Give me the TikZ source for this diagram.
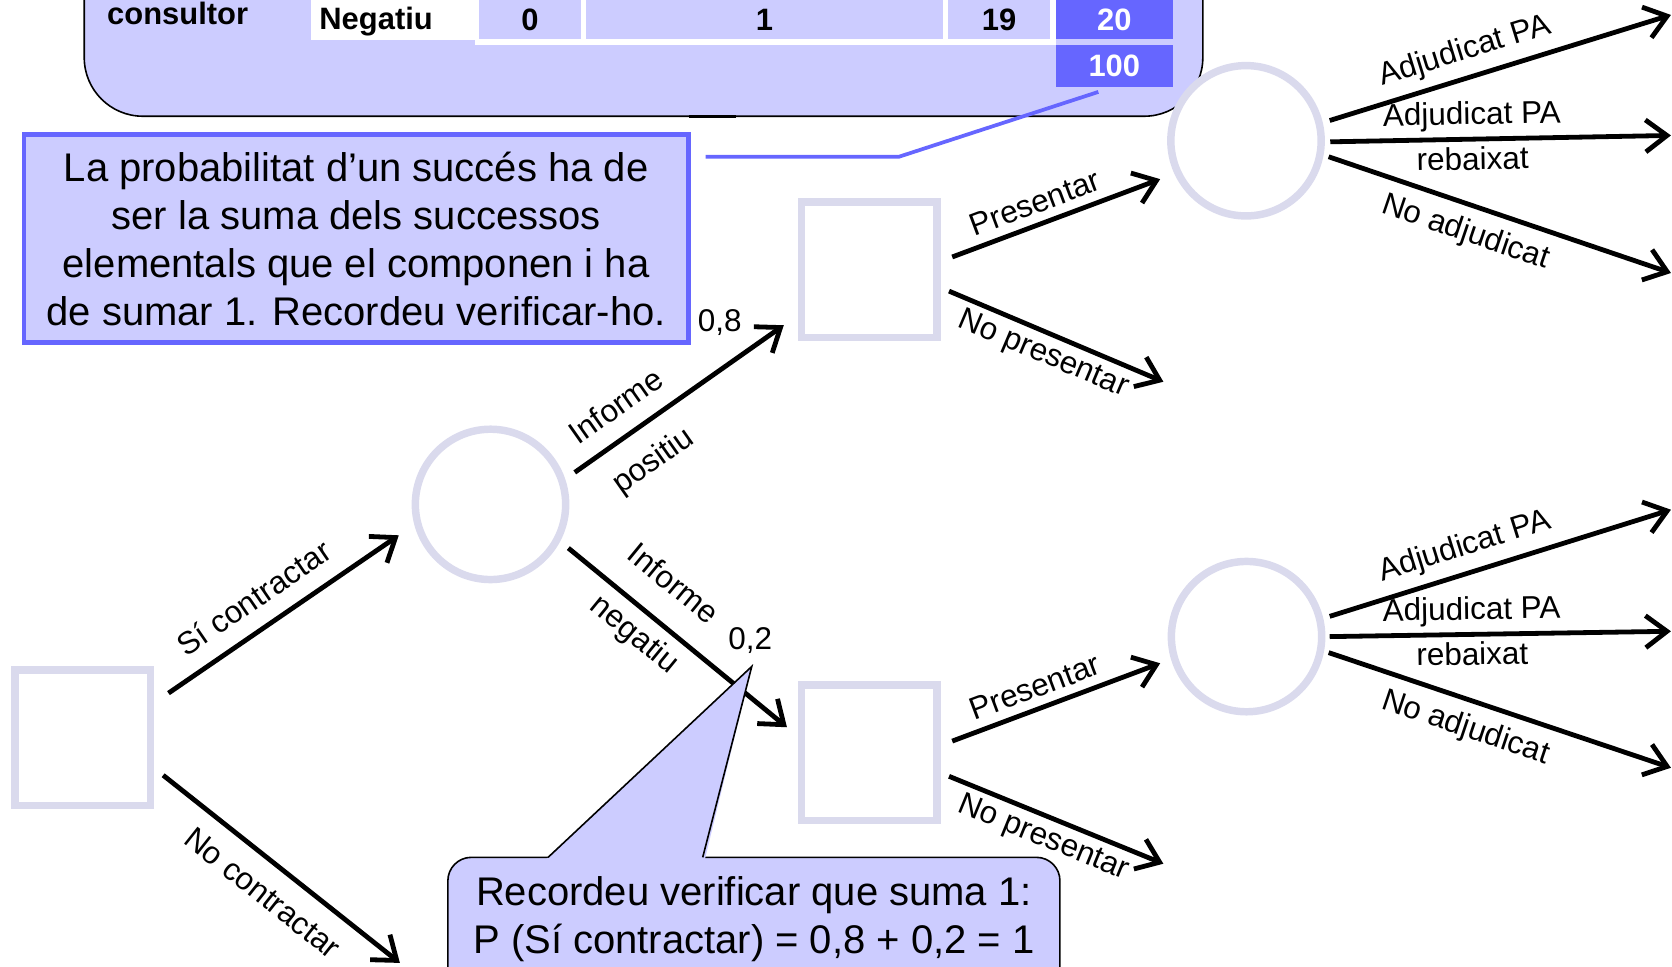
\documentclass[tikz,border=0pt]{standalone}
\usepackage{fontspec}
\setmainfont{Liberation Sans}
\usetikzlibrary{arrows.meta,calc}
\definecolor{lav}{RGB}{204,204,255}
\definecolor{blu}{RGB}{102,102,255}
\definecolor{ring}{RGB}{218,218,237}
\begin{document}
\begin{tikzpicture}[x=1pt,y=-1pt,
  arr/.style={line width=4.5pt,-{Straight Barb[length=20pt,width=30pt]}},
  lbl/.style={font=\fontsize{29.5}{34}\selectfont,sloped,inner sep=0pt,text height=21pt,text depth=6pt},
  decbox/.style={draw=ring,line width=7pt,fill=white,minimum width=127pt,minimum height=127pt,inner sep=0pt},
  chance/.style={circle,draw=ring,line width=7pt,fill=white,minimum size=141pt,inner sep=0pt},
  big/.style={font=\fontsize{37.5}{45}\selectfont,align=center},
  tab/.style={font=\fontsize{29}{33}\selectfont\bfseries},
  cell/.style={tab,inner sep=0pt,minimum height=37pt},
  num/.style={font=\fontsize{29.5}{34}\selectfont,inner sep=1pt}]
\useasboundingbox (0,0) rectangle (1568,906);
\clip (0,0) rectangle (1568,906);

% table panel
\draw[fill=lav,line width=1.5pt,rounded corners=55pt] (79,-120) rectangle (1128,109);
\draw[line width=3pt] (646,109.5) -- (690,109.5);
\fill[white] (445,-10) rectangle (990,42);
\node[cell,fill=white,minimum width=154pt,anchor=north west] (negc) at (291,0) {};
\node[tab,anchor=base west] (neg) at (296,28) {Negatiu};
\node[tab,anchor=base west] (cons) at (97,23) {consultor};
\node[cell,fill=lav,minimum width=96pt] (c0) at (497,18.5) {0};
\node[cell,fill=lav,minimum width=334pt] (c1v) at (717,18.5) {1};
\node[cell,fill=lav,minimum width=96pt] (c19) at (937,18.5) {19};
\node[cell,fill=blu,text=white,minimum width=110pt] (c20) at (1045,18.5) {20};
\node[cell,fill=blu,text=white,minimum width=110pt,minimum height=40pt] (c100) at (1045,62) {100};

% callout 1
\node[big,draw=blu,line width=4.5pt,fill=lav,minimum width=623pt,minimum height=195pt,inner sep=0pt] (note1) at (334,224)
  {La probabilitat d’un succés ha de\\ser la suma dels successos\\elementals que el componen i ha\\de sumar 1. Recordeu verificar-ho.};
\coordinate (bend) at (843,147);
\draw[blu,line width=3.5pt] ($(c100.south)+(-15,4)$) -- (bend) -- ($(note1.east)+(14,-77)$);

% tree nodes
\node[decbox] (d1) at (77.5,692) {};
\node[chance] (k1) at (460,473) {};
\node[decbox] (d2) at (815,253) {};
\node[decbox] (d3) at (815,706) {};
\node[chance] (k2) at (1168.5,132) {};
\node[chance] (k3) at (1169,597) {};

\coordinate (nc) at (375,903);
\coordinate (np1) at (1091,358);
\coordinate (np2) at (1091,810);
\coordinate (t1) at (1567,14);
\coordinate (t2) at (1567,127);
\coordinate (t3) at (1567,256);
\coordinate (t4) at (1567,478);
\coordinate (t5) at (1567,592);
\coordinate (t6) at (1567,720);

% branches
\draw[arr] ($(d1.east)+(13.5,-42)$) -- node[lbl,above=9.6pt,pos=.445]{Sí contractar} ($(k1.west)+(-12,29)$);
\draw[arr] ($(d1.east)+(8.5,35)$) -- node[lbl,below=15.3pt,pos=.5]{No contractar} (nc);

\draw[arr] ($(k1.east)+(5,-30)$) -- node[lbl,above=10pt,pos=.28]{Informe} node[lbl,below=18.7pt,pos=.277]{positiu} ($(d2.west)+(-13,52)$);
\draw[arr] ($(k1.east)+(-1,41)$) -- node[lbl,above=18.5pt,pos=.367]{Informe} node[lbl,below=8.6pt,pos=.375]{negatiu} ($(d3.west)+(-10,-24)$);

\draw[arr] ($(d2.east)+(11,-12)$) -- node[lbl,above=2pt,pos=.434]{Presentar} ($(k2.west)+(-6.5,36)$);
\draw[arr] ($(d2.east)+(8,20)$) -- node[lbl,below=4.4pt,pos=.478]{No presentar} (np1);
\draw[arr] ($(d3.east)+(11,-11)$) -- node[lbl,above=2pt,pos=.434]{Presentar} ($(k3.west)+(-7,25)$);
\draw[arr] ($(d3.east)+(8,22)$) -- node[lbl,below=4.4pt,pos=.478]{No presentar} (np2);

\draw[arr] ($(k2.east)+(4.5,-19)$) -- node[lbl,above=8.5pt,pos=.419]{Adjudicat PA} (t1);
\draw[arr] ($(k2.east)+(5,1)$) -- node[lbl,above=5.5pt,pos=.417]{Adjudicat PA} node[lbl,below=5.5pt,pos=.417]{rebaixat} (t2);
\draw[arr] ($(k2.east)+(3.5,15)$) -- node[lbl,below=10.8pt,pos=.426]{No adjudicat} (t3);
\draw[arr] ($(k3.east)+(4,-19)$) -- node[lbl,above=8.5pt,pos=.419]{Adjudicat PA} (t4);
\draw[arr] ($(k3.east)+(4,0)$) -- node[lbl,above=5.5pt,pos=.417]{Adjudicat PA} node[lbl,below=5.5pt,pos=.417]{rebaixat} (t5);
\draw[arr] ($(k3.east)+(3,15)$) -- node[lbl,below=10.8pt,pos=.426]{No adjudicat} (t6);

\node[num] (p08) at (675,302) {0,8};
\node[num] (p02) at (703.5,601) {0,2};

% callout 2
\coordinate (tip) at (705,625);
\draw[fill=lav,line width=1.5pt,rounded corners=22pt] (420,804) rectangle (994,1000);
\fill[lav] (512,806) -- (tip) -- (661,806) -- cycle;
\draw[line width=1.5pt,line join=miter] (514,804) -- (tip) -- (659,804);
\node[big] (note2) at (707,862) {Recordeu verificar que suma 1:\\P (Sí contractar) = 0,8 + 0,2 = 1};
\end{tikzpicture}
\end{document}
